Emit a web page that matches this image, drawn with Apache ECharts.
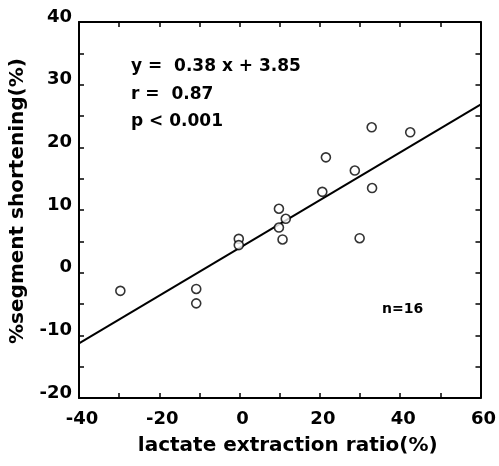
<!DOCTYPE html>
<html>
<head>
<meta charset="utf-8">
<script src="https://cdn.jsdelivr.net/npm/echarts@6/dist/echarts.min.js"></script>
<style>
html,body{margin:0;padding:0;background:#fff;}
#chart{width:499px;height:466px;}
</style>
</head>
<body>
<div id="chart"></div>
<script>
// Data
var lactateX = [-29.7, -10.8, -10.8, -0.2, -0.2, 9.8, 9.8, 11.5, 10.7, 20.6, 21.5, 28.7, 29.9, 32.9, 33.0, 42.5];
var shorteningY = [-2.9, -2.6, -4.9, 5.4, 4.4, 10.2, 7.2, 8.6, 5.3, 12.9, 18.4, 16.3, 5.5, 23.2, 13.5, 22.4];
var fitX = [-40, 60];
var fitY = [-11.3, 26.8];
var xTickLabels = [-40, -20, 0, 20, 40, 60];
var yTickLabels = [-20, -10, 0, 10, 20, 30, 40];
var statLines = ['y =  0.38 x + 3.85', 'r =  0.87', 'p < 0.001'];
var nLabel = 'n=16';
var xName = 'lactate extraction ratio(%)';
var yName = '%segment shortening(%)';

var FONT = 'DejaVu Sans';
var pts = lactateX.map(function (x, i) { return [x, shorteningY[i]]; });
var fit = fitX.map(function (x, i) { return [x, fitY[i]]; });

var chart = echarts.init(document.getElementById('chart'));
var axisLine = { show: true, onZero: false, lineStyle: { color: '#000', width: 2 } };
var tick = { show: true, inside: true, length: 5, lineStyle: { color: '#000', width: 1.5 } };

var option = {
  animation: false,
  backgroundColor: '#fff',
  grid: { left: 79, right: 15, top: 22, bottom: 68 },
  xAxis: [{
    type: 'value', position: 'bottom', min: -40, max: 60, interval: 10,
    axisLine: axisLine, axisTick: tick, splitLine: { show: false },
    axisLabel: {
      margin: 12, color: '#000', fontFamily: FONT, fontWeight: 'bold', fontSize: 18,
      padding: [0, 0, 0, 6],
      formatter: function (v) { return xTickLabels.indexOf(v) >= 0 ? String(v) : ''; }
    },
    name: xName, nameLocation: 'middle', nameGap: 38,
    nameTextStyle: { color: '#000', fontFamily: FONT, fontWeight: 'bold', fontSize: 20, padding: [0, 0, 0, 16] }
  }, {
    type: 'value', position: 'top', min: -40, max: 60, interval: 10,
    axisLine: axisLine, axisTick: tick, splitLine: { show: false }, axisLabel: { show: false }
  }],
  yAxis: [{
    type: 'value', position: 'left', min: -20, max: 40, interval: 5,
    axisLine: axisLine, axisTick: tick, splitLine: { show: false },
    axisLabel: {
      margin: 7, color: '#000', fontFamily: FONT, fontWeight: 'bold', fontSize: 18,
      verticalAlign: 'bottom', lineHeight: 10,
      formatter: function (v) { return yTickLabels.indexOf(v) >= 0 ? String(v) : ''; }
    },
    name: yName, nameLocation: 'middle', nameGap: 51,
    nameTextStyle: { color: '#000', fontFamily: FONT, fontWeight: 'bold', fontSize: 20, padding: [0, 0, 0, 18] }
  }, {
    type: 'value', position: 'right', min: -20, max: 40, interval: 5,
    axisLine: axisLine, axisTick: tick, splitLine: { show: false }, axisLabel: { show: false }
  }],
  series: [{
    type: 'line', data: fit, showSymbol: false, symbol: 'none',
    lineStyle: { color: '#000', width: 2 }, z: 2
  }, {
    type: 'scatter', data: pts, symbol: 'circle', symbolSize: 9,
    itemStyle: { color: '#fff', borderColor: '#000', borderWidth: 1.6 }, z: 3
  }],
  graphic: [
    { type: 'text', left: 131, top: 58, style: { text: statLines[0], font: 'bold 17px "DejaVu Sans"', fill: '#000' } },
    { type: 'text', left: 131, top: 86, style: { text: statLines[1], font: 'bold 17px "DejaVu Sans"', fill: '#000' } },
    { type: 'text', left: 131, top: 113, style: { text: statLines[2], font: 'bold 17px "DejaVu Sans"', fill: '#000' } },
    { type: 'text', left: 382, top: 302, style: { text: nLabel, font: 'bold 14px "DejaVu Sans"', fill: '#000' } }
  ]
};
chart.setOption(option);
</script>
</body>
</html>
